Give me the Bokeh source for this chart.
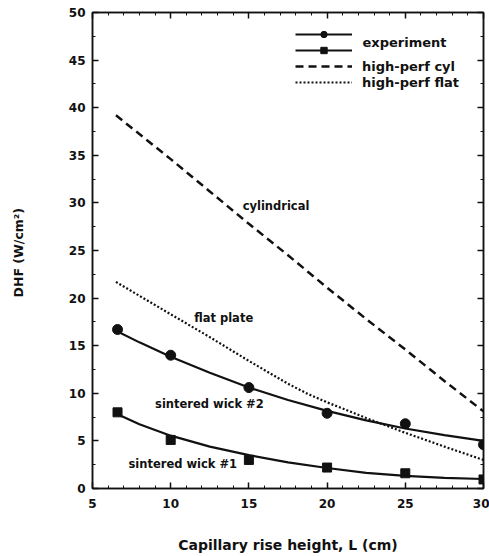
from bokeh.plotting import figure
from bokeh.models import (Range1d, LinearAxis, Legend, LegendItem, FixedTicker,
                          ColumnDataSource, CustomLabelingPolicy)
from bokeh.core.properties import value
from bokeh.embed import file_html
from bokeh.resources import INLINE

# ---- data ----
L_exp = [6.6, 10, 15, 20, 25, 30]
dhf_wick2 = [16.7, 14.0, 10.6, 7.9, 6.8, 4.6]
dhf_wick1 = [8.0, 5.1, 3.0, 2.2, 1.6, 0.95]

L_fit = [6.6, 8, 10, 12.5, 15, 17.5, 20, 22.5, 25, 27.5, 30]
fit_wick2 = [16.5, 15.35, 13.85, 12.15, 10.6, 9.3, 8.15, 7.15, 6.3, 5.6, 5.0]
fit_wick1 = [7.8, 6.75, 5.55, 4.4, 3.5, 2.75, 2.15, 1.65, 1.32, 1.12, 1.0]

L_model = [6.5, 10, 12.5, 15, 17.5, 18.75, 20, 22.5, 25, 27.5, 30]
dhf_cyl = [39.2, 34.6, 31.2, 27.8, 24.5, 22.8, 21.1, 17.8, 14.6, 11.3, 8.1]
dhf_flat = [21.7, 18.3, 15.9, 13.4, 11.0, 9.95, 9.05, 7.4, 5.85, 4.4, 3.0]

x_ticks = [5, 10, 15, 20, 25, 30]
y_ticks = [0, 5, 10, 15, 20, 25, 30, 35, 40, 45, 50]

note_text = ["cylindrical", "flat plate", "sintered wick #2", "sintered wick #1"]
note_x = [14.6, 11.5, 9.0, 7.3]
note_y = [29.7, 17.9, 8.9, 2.6]

legend_labels = ["experiment", "high-perf cyl", "high-perf flat"]
legend_text_x = [22.26]
legend_text_y = [46.85]

FONT = "DejaVu Sans"
INK = "#111111"

p = figure(width=489, height=556, output_backend="svg", toolbar_location=None,
           x_range=Range1d(5, 30), y_range=Range1d(0, 50),
           min_border_left=92, min_border_right=6, min_border_top=12, min_border_bottom=68)
p.background_fill_color = "white"
p.border_fill_color = "white"
p.outline_line_color = INK
p.outline_line_width = 1.5
p.grid.visible = False

no_labels = CustomLabelingPolicy(code="""
    for (const i of Array.from(indices)) indices.unset(i)
    return indices
""")

def style_axis(ax, labels=True):
    ax.axis_line_color = INK
    ax.axis_line_width = 1.5
    ax.major_tick_in = 6
    ax.major_tick_out = 0
    ax.minor_tick_in = 3
    ax.minor_tick_out = 0
    ax.major_tick_line_color = INK
    ax.minor_tick_line_color = INK
    ax.major_tick_line_width = 1.5
    ax.minor_tick_line_width = 1
    ax.major_label_text_font = FONT
    ax.major_label_text_font_style = "bold"
    ax.major_label_text_font_size = "12px"
    ax.major_label_text_color = INK
    ax.axis_label_text_font = FONT
    ax.axis_label_text_font_style = "bold"
    ax.axis_label_text_color = INK
    if not labels:
        ax.major_label_policy = no_labels
        ax.major_label_text_font_size = "0px"
        ax.major_label_standoff = 0

xt = FixedTicker(ticks=x_ticks, minor_ticks=list(range(5, 31)))
yt = FixedTicker(ticks=y_ticks, minor_ticks=[v * 2.5 for v in range(0, 21)])

p.xaxis.ticker = xt
p.yaxis.ticker = yt
style_axis(p.xaxis[0])
style_axis(p.yaxis[0])
p.xaxis.major_label_standoff = 10
p.yaxis.major_label_standoff = 7
p.xaxis.axis_label = "Capillary rise height, L (cm)"
p.xaxis.axis_label_text_font_size = "14px"
p.xaxis.axis_label_standoff = 26
p.yaxis.axis_label = "DHF  (W/cm\u00b2)"
p.yaxis.axis_label_text_font_size = "12.5px"
p.yaxis.axis_label_standoff = 40

top = LinearAxis(ticker=xt)
style_axis(top, labels=False)
p.add_layout(top, "above")
right = LinearAxis(ticker=yt)
style_axis(right, labels=False)
p.add_layout(right, "right")

# curves
r_fit2 = p.line(L_fit, fit_wick2, line_color=INK, line_width=2.2)
r_fit1 = p.line(L_fit, fit_wick1, line_color=INK, line_width=2.2)
r_pt2 = p.scatter(L_exp, dhf_wick2, marker="circle", size=10, fill_color=INK, line_color=INK)
r_pt1 = p.scatter(L_exp, dhf_wick1, marker="square", size=9, fill_color=INK, line_color=INK)
r_cyl = p.line(L_model, dhf_cyl, line_color=INK, line_width=2.5, line_dash="8 5")
r_flat = p.line(L_model, dhf_flat, line_color=INK, line_width=2.2, line_dash="2 2")

# annotations
src = ColumnDataSource(dict(x=note_x, y=note_y, t=note_text))
p.text(x="x", y="y", text="t", source=src, text_font=value(FONT), text_font_style="bold",
       text_font_size="11.5px", text_color=INK, text_baseline="middle", text_align="left")

p.text(x=legend_text_x, y=legend_text_y, text=[legend_labels[0]], text_font=value(FONT),
       text_font_style="bold", text_font_size="13px", text_color=INK,
       text_baseline="middle", text_align="left")

legend = Legend(items=[
    LegendItem(label=" ", renderers=[r_fit2, r_pt2]),
    LegendItem(label=" ", renderers=[r_fit1, r_pt1]),
    LegendItem(label=legend_labels[1], renderers=[r_cyl]),
    LegendItem(label=legend_labels[2], renderers=[r_flat]),
], location=(203, 398))
legend.glyph_width = 57
legend.glyph_height = 16
legend.label_height = 16
legend.label_standoff = 10
legend.spacing = 0
legend.padding = 0
legend.margin = 0
legend.border_line_color = None
legend.background_fill_alpha = 0
legend.label_text_font = FONT
legend.label_text_font_style = "bold"
legend.label_text_font_size = "13px"
legend.label_text_color = INK
p.add_layout(legend)

open("out.html", "w").write(file_html(p, INLINE))
